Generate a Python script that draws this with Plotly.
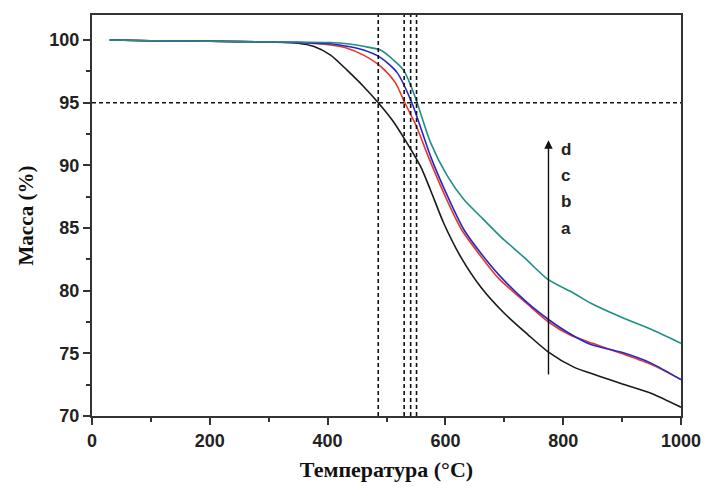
import plotly.graph_objects as go

# ---- data ----
t_a = [30, 100, 200, 300, 350, 376, 405, 433, 461, 486, 510, 532, 558, 575, 597, 626, 660, 700, 740, 775, 818, 860, 898, 950, 1000]
m_a = [100.0, 99.95, 99.9, 99.85, 99.75, 99.5, 98.8, 97.6, 96.3, 95.0, 93.6, 92.0, 89.9, 88.0, 85.4, 82.7, 80.3, 78.2, 76.5, 75.1, 73.9, 73.2, 72.6, 71.8, 70.7]

t_b = [30, 100, 200, 300, 350, 405, 433, 461, 490, 515, 531, 550, 571, 600, 627, 656, 690, 740, 775, 810, 850, 898, 950, 1000]
m_b = [100.0, 99.95, 99.9, 99.85, 99.8, 99.6, 99.35, 98.8, 97.9, 96.6, 95.0, 93.2, 90.7, 87.5, 84.9, 83.0, 81.0, 78.9, 77.5, 76.5, 75.8, 75.0, 74.1, 72.9]

t_c = [30, 100, 200, 300, 350, 405, 433, 461, 490, 518, 543, 575, 604, 631, 660, 694, 740, 775, 810, 847, 898, 950, 1000]
m_c = [100.0, 99.95, 99.9, 99.85, 99.8, 99.7, 99.5, 99.2, 98.6, 97.4, 95.0, 90.7, 87.5, 84.9, 83.0, 81.1, 79.0, 77.7, 76.6, 75.7, 75.1, 74.2, 72.9]

t_d = [30, 100, 200, 300, 350, 405, 433, 461, 490, 512, 529, 541, 552, 575, 604, 631, 660, 694, 735, 774, 818, 847, 898, 950, 1000]
m_d = [100.0, 99.95, 99.9, 99.85, 99.85, 99.8, 99.7, 99.5, 99.2, 98.4, 97.6, 96.4, 95.0, 91.8, 89.1, 87.3, 85.9, 84.3, 82.6, 80.9, 79.8, 79.0, 77.9, 76.9, 75.8]

ref_temps = [486, 530, 541, 551]
ref_mass = 95
arrow_x = 775
arrow_from = 73.2
arrow_to = 92.0
labels = ["d", "c", "b", "a"]
label_y = [91.3, 89.2, 87.1, 85.0]
label_x = 804

series = [
    (t_a, m_a, "#1a1a1a"),
    (t_b, m_b, "#e23a2e"),
    (t_c, m_c, "#2727c8"),
    (t_d, m_d, "#1f8f86"),
]

fig = go.Figure()
for t, m, c in series:
    fig.add_trace(go.Scatter(x=t, y=m, mode="lines", line=dict(color=c, width=1.6, shape="spline", smoothing=0.7),
                             showlegend=False, hoverinfo="skip"))

dash = "4px,3px"
for tr in ref_temps:
    fig.add_shape(type="line", x0=tr, x1=tr, y0=70, y1=102, xref="x", yref="y",
                  line=dict(color="#111", width=1.6, dash=dash))
fig.add_shape(type="line", x0=0, x1=1000, y0=ref_mass, y1=ref_mass, xref="x", yref="y",
              line=dict(color="#111", width=1.6, dash=dash))

fig.add_annotation(x=arrow_x, y=arrow_to, ax=arrow_x, ay=arrow_from, xref="x", yref="y",
                   axref="x", ayref="y", showarrow=True, arrowhead=2, arrowsize=1.2,
                   arrowwidth=1.4, arrowcolor="#111", text="")
for lab, ly in zip(labels, label_y):
    fig.add_annotation(x=label_x, y=ly, xref="x", yref="y", text=lab, showarrow=False,
                       font=dict(family="Liberation Sans, Arial", size=17, color="#222", weight="bold"))

tickfont = dict(family="Liberation Sans, Arial", size=18, color="#222", weight="bold")
xtitlefont = dict(family="Liberation Serif, Times New Roman", size=22, color="#111", weight="bold")
ytitlefont = dict(family="Liberation Serif, Times New Roman", size=21, color="#111", weight="bold")

fig.update_xaxes(range=[0, 1000], tickvals=[0, 200, 400, 600, 800, 1000], ticks="outside", ticklen=7,
                 tickwidth=2, tickcolor="#333", minor=dict(dtick=100, tick0=0, ticks="outside", ticklen=4, tickwidth=2, tickcolor="#333"),
                 showline=True, linewidth=2, linecolor="#333", mirror=True, showgrid=False, zeroline=False,
                 automargin=False,
                 tickfont=tickfont, title=dict(text="Температура (°C)", font=xtitlefont, standoff=12))
fig.update_yaxes(range=[70, 102], tickvals=[70, 75, 80, 85, 90, 95, 100], ticks="outside", ticklen=7,
                 tickwidth=2, tickcolor="#333", minor=dict(dtick=2.5, tick0=70, ticks="outside", ticklen=4, tickwidth=2, tickcolor="#333"),
                 showline=True, linewidth=2, linecolor="#333", mirror=True, showgrid=False, zeroline=False,
                 automargin=False,
                 tickfont=tickfont, title=dict(text="Масса (%)", font=ytitlefont, standoff=10))

fig.update_layout(width=706, height=490, margin=dict(l=92, r=25, t=15, b=74),
                  plot_bgcolor="white", paper_bgcolor="white")

fig.write_html("out.html")
